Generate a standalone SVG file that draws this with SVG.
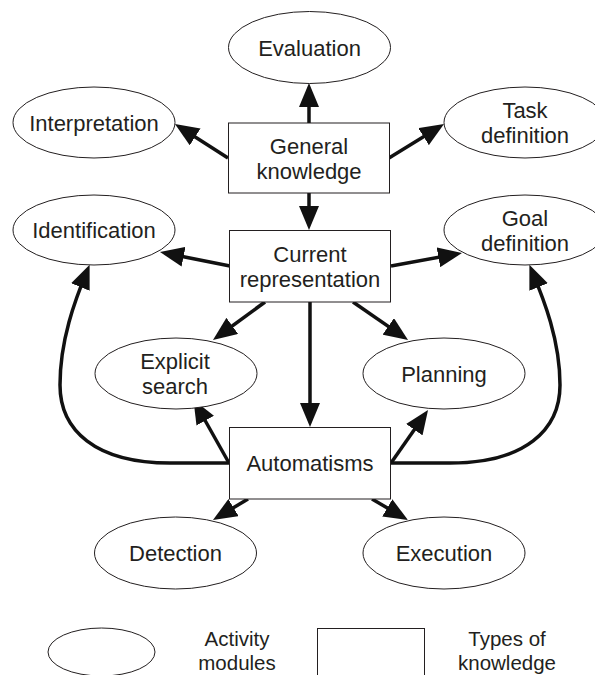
<svg xmlns="http://www.w3.org/2000/svg" width="595" height="675" viewBox="0 0 595 675">
  <style>
    .node ellipse, .node rect { fill: #ffffff; stroke: #231f20; stroke-width: 1; }
    .node text, .legend text { font-family: "Liberation Sans", Arial, sans-serif; font-size: 22px; fill: #231f20; text-anchor: middle; }
    .legend text.key { font-size: 20.5px; }
    .edge { fill: none; stroke: #111111; stroke-width: 3.5; marker-end: url(#head); }
  </style>
  <defs>
    <marker id="head" markerUnits="userSpaceOnUse" markerWidth="24" markerHeight="20" refX="18" refY="10" orient="auto">
      <path d="M0,0 L24,10 L0,20 z" fill="#111111"/>
    </marker>
  </defs>

  <rect width="595" height="675" fill="#ffffff"/>

  <!-- connectors -->
  <g id="connectors">
    <path class="edge" d="M309,123 L309,89"/>
    <path class="edge" d="M228,158 L180,127.2"/>
    <path class="edge" d="M389,158 L438.9,127.2"/>
    <path class="edge" d="M309,193 L309,224"/>
    <path class="edge" d="M230,266 L165.9,253.2"/>
    <path class="edge" d="M391,266 L456.1,254.1"/>
    <path class="edge" d="M265,302 L217.8,336.5"/>
    <path class="edge" d="M353,302 L403.1,336.6"/>
    <path class="edge" d="M310,302 L310,421"/>
    <path class="edge" d="M229,463 L196.4,405"/>
    <path class="edge" d="M391,463 L424.6,414.9"/>
    <path class="edge" d="M229,463 L170,463 C95,463 60,430 60,385 C60,340 75,300 87.3,270.4"/>
    <path class="edge" d="M391,463 L450,463 C525,463 560,430 560,385 C560,340 544,300 531.7,270.4"/>
    <path class="edge" d="M248,499 L218.1,516.9"/>
    <path class="edge" d="M372,499 L402.8,517"/>
  </g>

  <!-- activity modules -->
  <g id="evaluation" class="node">
    <ellipse cx="309.5" cy="47.5" rx="81" ry="36"/>
    <text x="309.5" y="55.5">Evaluation</text>
  </g>
  <g id="interpretation" class="node">
    <ellipse cx="94" cy="122.5" rx="81" ry="35.5"/>
    <text x="94" y="130.5">Interpretation</text>
  </g>
  <g id="task-definition" class="node">
    <ellipse cx="525" cy="122.5" rx="81" ry="35.5"/>
    <text x="525" y="118">Task</text>
    <text x="525" y="143">definition</text>
  </g>
  <g id="identification" class="node">
    <ellipse cx="94" cy="230" rx="81" ry="35"/>
    <text x="94" y="238">Identification</text>
  </g>
  <g id="goal-definition" class="node">
    <ellipse cx="525" cy="230" rx="81" ry="35"/>
    <text x="525" y="225.5">Goal</text>
    <text x="525" y="250.5">definition</text>
  </g>
  <g id="explicit-search" class="node">
    <ellipse cx="176" cy="373.5" rx="81" ry="35.5"/>
    <text x="175" y="369">Explicit</text>
    <text x="175" y="394">search</text>
  </g>
  <g id="planning" class="node">
    <ellipse cx="444" cy="373.5" rx="81" ry="35.5"/>
    <text x="444" y="381.5">Planning</text>
  </g>
  <g id="detection" class="node">
    <ellipse cx="175.5" cy="553" rx="81" ry="36"/>
    <text x="175.5" y="561">Detection</text>
  </g>
  <g id="execution" class="node">
    <ellipse cx="444" cy="553" rx="81" ry="36"/>
    <text x="444" y="561">Execution</text>
  </g>

  <!-- types of knowledge -->
  <g id="general-knowledge" class="node">
    <rect x="228.5" y="123" width="161" height="70"/>
    <text x="309" y="153.5">General</text>
    <text x="309" y="178.5">knowledge</text>
  </g>
  <g id="current-representation" class="node">
    <rect x="229.5" y="230.5" width="161" height="71.5"/>
    <text x="310" y="261.5">Current</text>
    <text x="310" y="286.5">representation</text>
  </g>
  <g id="automatisms" class="node">
    <rect x="229.5" y="427.5" width="161" height="71.5"/>
    <text x="310" y="471">Automatisms</text>
  </g>

  <!-- legend -->
  <g id="legend" class="legend">
    <g id="legend-activity" class="node">
      <ellipse cx="101.5" cy="652" rx="53.5" ry="24"/>
    </g>
    <text class="key" x="237" y="646">Activity</text>
    <text class="key" x="237" y="670">modules</text>
    <g id="legend-knowledge" class="node">
      <rect x="317.5" y="628.5" width="107" height="70"/>
    </g>
    <text class="key" x="507" y="646">Types of</text>
    <text class="key" x="507" y="670">knowledge</text>
  </g>
</svg>
